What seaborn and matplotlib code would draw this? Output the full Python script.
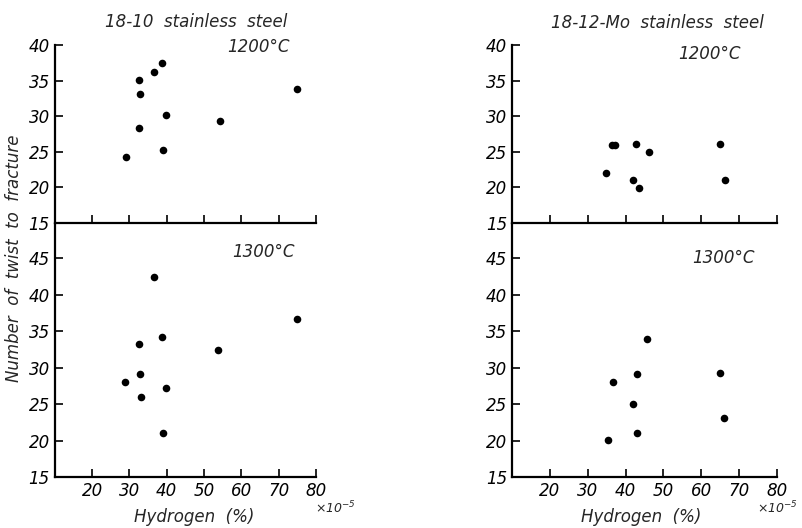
import matplotlib
matplotlib.use("Agg")
import matplotlib.pyplot as plt
import seaborn as sns
import pandas as pd

# 18-10 stainless steel
h_1810_1200 = [29.1, 32.7, 32.9, 32.7, 36.5, 38.7, 39.7, 39.0, 54.3, 75.0]
t_1810_1200 = [24.3, 28.3, 33.1, 35.1, 36.2, 37.4, 30.2, 25.2, 29.3, 33.8]
h_1810_1300 = [36.5, 32.6, 38.8, 53.8, 75.0, 28.8, 32.8, 33.0, 39.8, 39.0]
t_1810_1300 = [42.4, 33.2, 34.2, 32.4, 36.7, 28.0, 29.1, 26.0, 27.2, 21.1]

# 18-12-Mo stainless steel
h_1812_1200 = [34.9, 36.3, 37.2, 42.8, 46.1, 42.0, 43.5, 65.1, 66.3]
t_1812_1200 = [22.0, 26.0, 26.0, 26.1, 25.0, 21.0, 19.9, 26.1, 21.0]
h_1812_1300 = [45.6, 36.7, 42.9, 42.0, 43.1, 35.3, 65.0, 66.0]
t_1812_1300 = [33.9, 28.0, 29.1, 25.0, 21.1, 20.1, 29.2, 23.1]

x_ticks = [20, 30, 40, 50, 60, 70, 80]
y_ticks_top = [15, 20, 25, 30, 35, 40]
y_ticks_bot = [15, 20, 25, 30, 35, 40, 45]

sns.set_style("ticks")
plt.rcParams['font.family'] = ['DejaVu Sans']
plt.rcParams['font.style'] = 'italic'
plt.rcParams['mathtext.default'] = 'it'

fig = plt.figure(figsize=(8.02, 5.28), dpi=100)
ax_lt = fig.add_axes([0.0683, 0.5777, 0.3257, 0.3371])
ax_lb = fig.add_axes([0.0683, 0.0966, 0.3257, 0.4792])
ax_rt = fig.add_axes([0.6387, 0.5777, 0.3298, 0.3371])
ax_rb = fig.add_axes([0.6387, 0.0966, 0.3298, 0.4792])

panels = [
    (ax_lt, h_1810_1200, t_1810_1200, True),
    (ax_lb, h_1810_1300, t_1810_1300, False),
    (ax_rt, h_1812_1200, t_1812_1200, True),
    (ax_rb, h_1812_1300, t_1812_1300, False),
]

for ax, h, t, top in panels:
    df = pd.DataFrame({'h': h, 't': t})
    sns.scatterplot(data=df, x='h', y='t', ax=ax, color='black', s=30,
                    edgecolor='black', linewidth=0, legend=False)
    ax.set_xlim(10, 80)
    ax.set_xticks(x_ticks)
    ax.set_xlabel('')
    ax.set_ylabel('')
    for side in ['top', 'right']:
        ax.spines[side].set_visible(False)
    for side in ['left', 'bottom']:
        ax.spines[side].set_color('black')
        ax.spines[side].set_linewidth(1.6)
    ax.tick_params(direction='in', length=6, width=1.2, colors='black',
                   labelsize=12)
    if top:
        ax.set_ylim(15, 40)
        ax.set_yticks(y_ticks_top)
        ax.tick_params(axis='x', labelbottom=False)
    else:
        ax.set_ylim(15, 49.7)
        ax.set_yticks(y_ticks_bot)
    ax.patch.set_alpha(0)

ax_lt.text(48, 43.2, '18-10  stainless  steel', fontsize=12, ha='center',
           va='center', clip_on=False)
ax_lt.text(64.5, 39.7, '1200°C', fontsize=12, ha='center', va='center')
ax_lb.text(66, 45.8, '1300°C', fontsize=12, ha='center', va='center')
ax_rt.text(48.5, 43.1, '18-12-Mo  stainless  steel', fontsize=12,
           ha='center', va='center', clip_on=False)
ax_rt.text(62.3, 38.8, '1200°C', fontsize=12, ha='center', va='center')
ax_rb.text(65.8, 45.1, '1300°C', fontsize=12, ha='center', va='center')

fig.text(0.242, 0.012, 'Hydrogen  (%)', fontsize=12, ha='center')
fig.text(0.80, 0.012, 'Hydrogen  (%)', fontsize=12, ha='center')
fig.text(0.393, 0.054, r'$\times10^{-5}$', fontsize=9, ha='left', va='top')
fig.text(0.995, 0.054, r'$\times10^{-5}$', fontsize=9, ha='right', va='top')
fig.text(0.018, 0.51, 'Number  of  twist  to  fracture', fontsize=12,
         rotation=90, ha='center', va='center')

fig.savefig('out.png', dpi=100)
